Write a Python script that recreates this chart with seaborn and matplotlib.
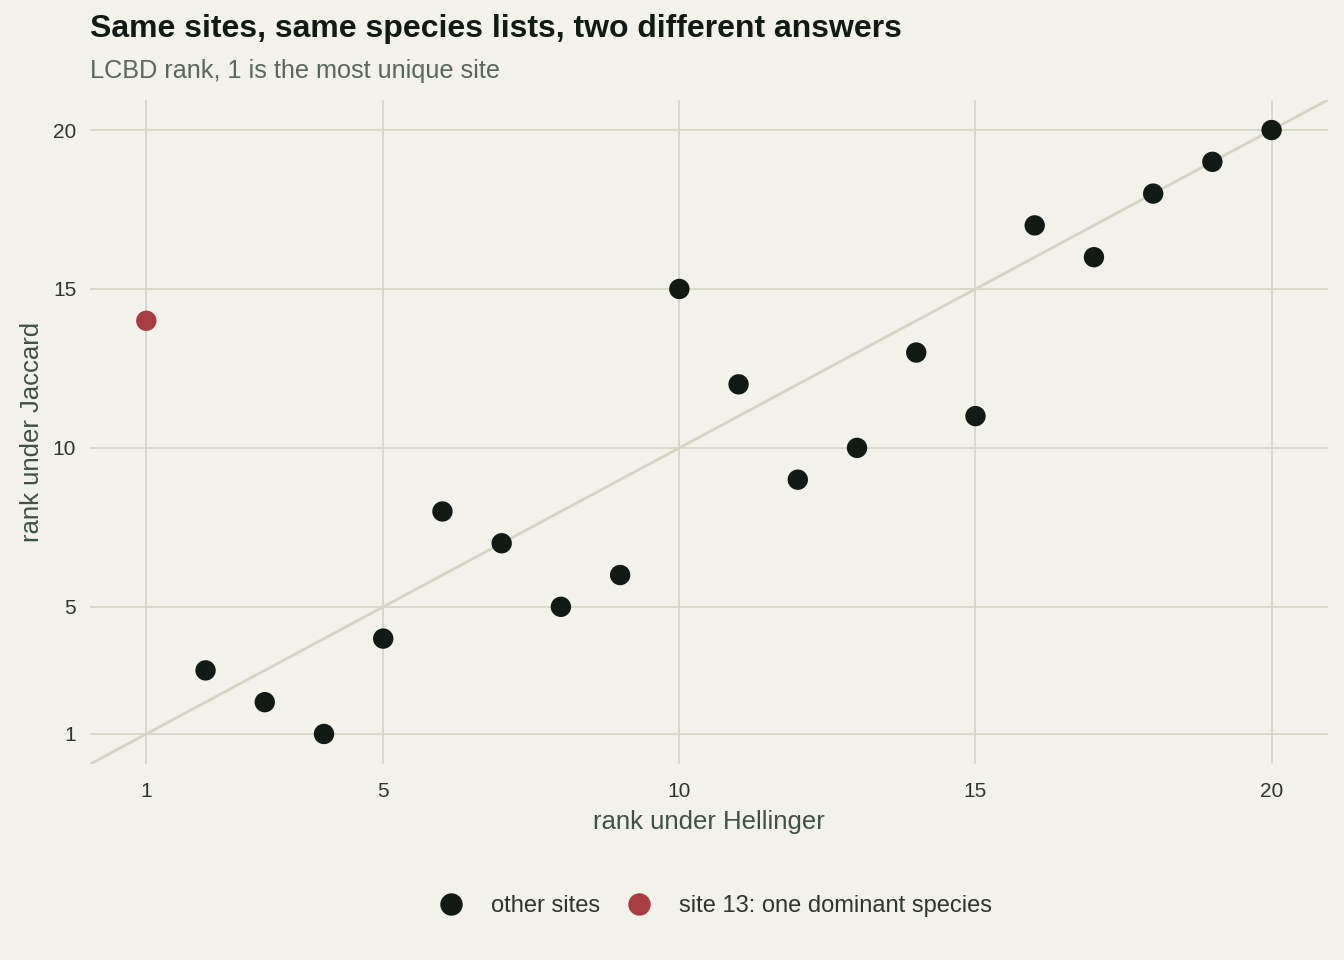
import matplotlib
matplotlib.use("Agg")
import matplotlib.pyplot as plt
import seaborn as sns
import pandas as pd

# rangi LCBD dla 20 stanowisk
hellinger = [1, 2, 3, 4, 5, 6, 7, 8, 9, 10, 11, 12, 13, 14, 15, 16, 17, 18, 19, 20]
jaccard = [14, 3, 2, 1, 4, 8, 7, 5, 6, 15, 12, 9, 10, 13, 11, 17, 16, 18, 19, 20]
groups = ["site 13: one dominant species"] + ["other sites"] * 19
ticks = [1, 5, 10, 15, 20]

df = pd.DataFrame({"hellinger": hellinger, "jaccard": jaccard, "group": groups})

bg = "#f2f1ea"
grid_col = "#d5d5c3"
palette = {"other sites": "#121a16", "site 13: one dominant species": "#a63d40"}

sns.set_theme(style="white")
plt.rcParams["font.family"] = ["Liberation Sans", "DejaVu Sans"]

fig = plt.figure(figsize=(13.44, 9.6), dpi=100, facecolor=bg)
ax = fig.add_axes([0.067, 0.204, 0.921, 0.692])
ax.set_facecolor(bg)

ax.set_xlim(0.05, 20.95)
ax.set_ylim(0.05, 20.95)
ax.set_xticks(ticks)
ax.set_yticks(ticks)
ax.grid(True, color=grid_col, linewidth=1.2)
ax.set_axisbelow(True)
for s in ax.spines.values():
    s.set_visible(False)

# linia y = x
ax.axline((1, 1), (20, 20), color=grid_col, linewidth=2, zorder=1)

sns.scatterplot(data=df, x="hellinger", y="jaccard", hue="group",
                hue_order=["other sites", "site 13: one dominant species"],
                palette=palette, s=215, linewidth=0, ax=ax, zorder=3)

ax.tick_params(axis="x", length=0, labelsize=15, labelcolor="#2e3430", pad=13)
ax.tick_params(axis="y", length=0, labelsize=15, labelcolor="#2e3430", pad=10)
ax.set_xlabel("rank under Hellinger", fontsize=18.5, color="#3e5048", labelpad=6)
ax.set_ylabel("rank under Jaccard", fontsize=18.5, color="#3e5048", labelpad=6)

fig.text(0.067, 0.961, "Same sites, same species lists, two different answers",
         fontsize=23, fontweight="bold", color="#121a16", va="baseline")
fig.text(0.067, 0.919, "LCBD rank, 1 is the most unique site",
         fontsize=18.2, color="#5a6660", va="baseline")

ax.legend_.remove()
h, l = ax.get_legend_handles_labels()
leg = fig.legend(h, l, loc="center", bbox_to_anchor=(0.528, 0.056), ncol=2,
                 frameon=False, fontsize=17, handletextpad=0.7, columnspacing=0.65,
                 markerscale=1.1)
for t in leg.get_texts():
    t.set_color("#2e3430")

plt.savefig("out.png", dpi=100, facecolor=bg)
